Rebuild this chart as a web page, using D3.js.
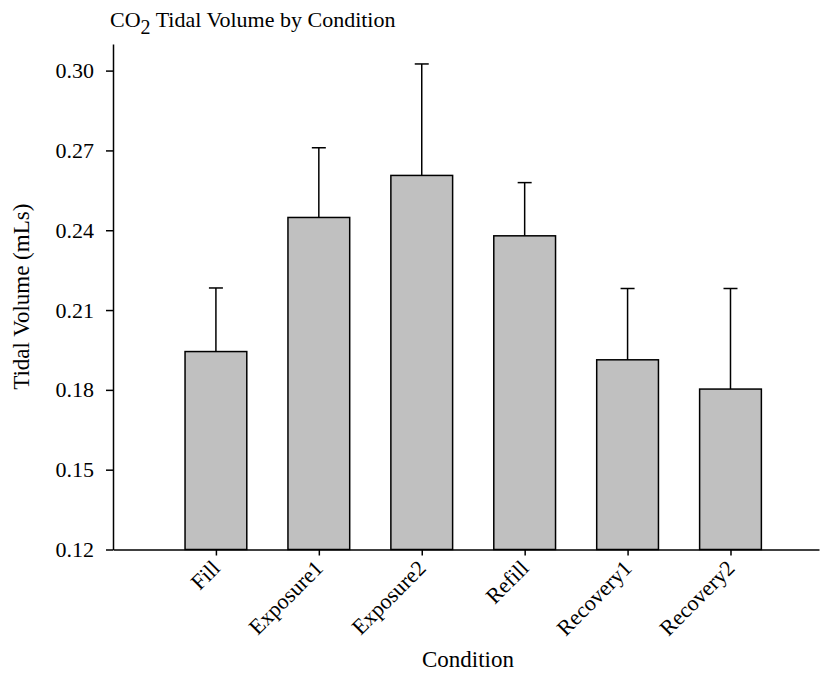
<!DOCTYPE html>
<html>
<head>
<meta charset="utf-8">
<script src="https://cdn.jsdelivr.net/npm/d3@7"></script>
<style>
  html, body { margin: 0; padding: 0; background: #fff; }
  svg { display: block; }
  text { font-family: "Liberation Serif", "Times New Roman", serif; fill: #000; }
</style>
</head>
<body>
<svg id="chart" width="825" height="673"></svg>
<script>
// Mean tidal volume (mLs) per condition, with the upper error (SD) above each mean
const categories = ["Fill", "Exposure1", "Exposure2", "Refill", "Recovery1", "Recovery2"];
const means = [0.1944, 0.2448, 0.2606, 0.2379, 0.1913, 0.1803];
const errors = [0.0239, 0.0262, 0.0419, 0.0200, 0.0268, 0.0378];
const yTicks = [0.12, 0.15, 0.18, 0.21, 0.24, 0.27, 0.30];

const svg = d3.select("#chart");

// Categories sit at positions 1..6 on a continuous axis that starts at 0
const x = d3.scaleLinear().domain([0, 6.86]).range([113, 819]);
const y = d3.scaleLinear().domain([0.12, 0.31]).range([549.5, 44]);
const barW = x(0.6) - x(0);

const data = categories.map((c, i) => ({ c, pos: i + 1, m: means[i], e: errors[i] }));

// Bars
svg.append("g").selectAll("rect").data(data).join("rect")
  .attr("x", d => x(d.pos) - barW / 2)
  .attr("y", d => y(d.m))
  .attr("width", barW)
  .attr("height", d => y(0.12) - y(d.m))
  .attr("fill", "#c0c0c0")
  .attr("stroke", "#000")
  .attr("stroke-width", 1.5);

// Upper error bars with caps
const eb = svg.append("g").attr("stroke", "#000").attr("stroke-width", 1.5);
eb.selectAll("line.stem").data(data).join("line").attr("class", "stem")
  .attr("x1", d => x(d.pos)).attr("x2", d => x(d.pos))
  .attr("y1", d => y(d.m)).attr("y2", d => y(d.m + d.e));
eb.selectAll("line.cap").data(data).join("line").attr("class", "cap")
  .attr("x1", d => x(d.pos) - 7).attr("x2", d => x(d.pos) + 7)
  .attr("y1", d => y(d.m + d.e)).attr("y2", d => y(d.m + d.e));

// Y axis
const yAxis = svg.append("g")
  .attr("transform", `translate(${x(0)},0)`)
  .call(d3.axisLeft(y).tickValues(yTicks).tickFormat(d3.format(".2f"))
    .tickSize(7).tickPadding(12).tickSizeOuter(0));
yAxis.select(".domain").attr("stroke-width", 1.5);
yAxis.selectAll(".tick line").attr("stroke-width", 1.5);
yAxis.selectAll(".tick text").attr("font-size", 22)
  .attr("font-family", "Liberation Serif, serif");

// X axis
const xAxis = svg.append("g")
  .attr("transform", `translate(0,${y(0.12)})`)
  .call(d3.axisBottom(x).tickValues(data.map(d => d.pos))
    .tickFormat((d, i) => categories[i]).tickSize(6).tickSizeOuter(0));
xAxis.select(".domain").attr("stroke-width", 1.5);
xAxis.selectAll(".tick line").attr("stroke-width", 1.5);
xAxis.selectAll(".tick text")
  .attr("font-size", 22)
  .attr("font-family", "Liberation Serif, serif")
  .attr("text-anchor", "end")
  .attr("dy", null)
  .attr("y", null)
  .attr("transform", "translate(5,20) rotate(-45)");

// Axis titles
svg.append("text")
  .attr("x", 468).attr("y", 667)
  .attr("text-anchor", "middle")
  .attr("font-size", 23)
  .text("Condition");

svg.append("text")
  .attr("transform", `translate(29,${(y(0.12) + y(0.31)) / 2}) rotate(-90)`)
  .attr("text-anchor", "middle")
  .attr("font-size", 23)
  .text("Tidal Volume (mLs)");

// Chart title with subscript
const title = svg.append("text").attr("x", 110).attr("y", 27).attr("font-size", 22);
title.append("tspan").text("CO");
title.append("tspan").attr("dy", 7).attr("font-size", 20).text("2");
title.append("tspan").attr("dy", -7).text(" Tidal Volume by Condition");
</script>
</body>
</html>
